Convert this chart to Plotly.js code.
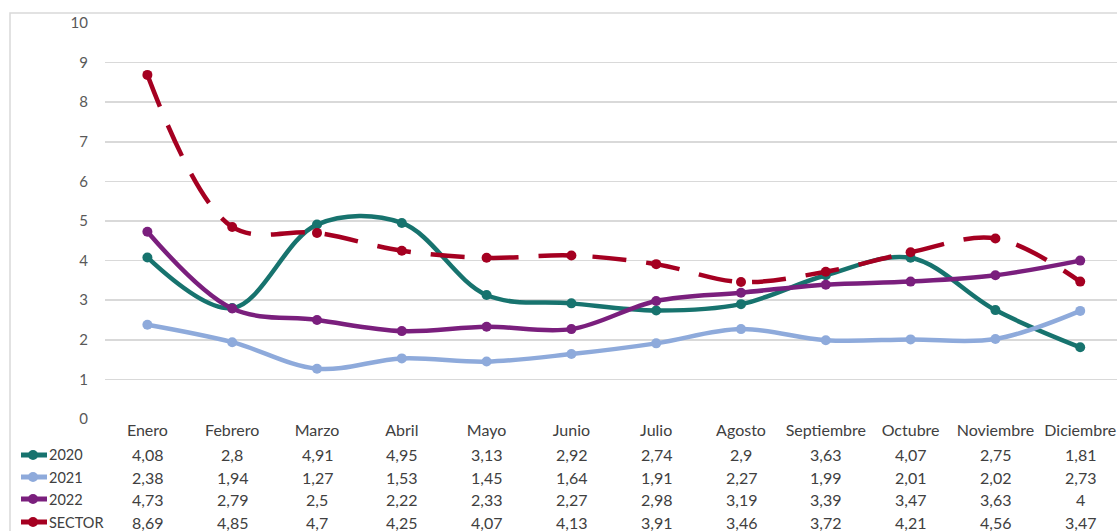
<!DOCTYPE html>
<html>
<head>
<meta charset="utf-8">
<script src="https://cdn.plot.ly/plotly-3.0.1.min.js"></script>
<style>html,body{margin:0;padding:0;background:#fff;overflow:hidden}</style>
</head>
<body>
<div id="chart" style="width:1117px;height:531px"></div>
<script>
const months = ["Enero","Febrero","Marzo","Abril","Mayo","Junio","Julio","Agosto","Septiembre","Octubre","Noviembre","Diciembre"];
const seriesNames = ["2020","2021","2022","SECTOR"];
const v2020 = [4.08,2.8,4.91,4.95,3.13,2.92,2.74,2.9,3.63,4.07,2.75,1.81];
const v2021 = [2.38,1.94,1.27,1.53,1.45,1.64,1.91,2.27,1.99,2.01,2.02,2.73];
const v2022 = [4.73,2.79,2.5,2.22,2.33,2.27,2.98,3.19,3.39,3.47,3.63,4];
const vSector = [8.69,4.85,4.7,4.25,4.07,4.13,3.91,3.46,3.72,4.21,4.56,3.47];
const yTicks = [0,1,2,3,4,5,6,7,8,9,10];

const allValues = [v2020, v2021, v2022, vSector];
const colors = ["#17736e", "#8eaadb", "#7a1f7d", "#a50021"];
const dashes = ["solid", "solid", "solid", "34px,20px"];

const fontFam = "Lato, 'Open Sans', sans-serif";
const textColor = "#404040";
const traces = allValues.map((vals, i) => ({
  type: "scatter",
  mode: "lines+markers",
  name: seriesNames[i],
  x: months,
  y: vals,
  line: {color: colors[i], width: 4.5, shape: "spline", smoothing: 1, dash: dashes[i]},
  marker: {color: colors[i], size: 10},
  showlegend: false,
  hoverinfo: "skip"
}));

// Plot area geometry in pixels (for paper conversions)
const L = 105, T = 23, PH = 396, PW = 1012;
const pyToPaper = py => (T + PH - py) / PH;
const pxToPaper = px => (px - L) / PW;
const rowY = [455, 477, 499, 522];

const annotations = [];
const shapes = [{
  type: "rect", xref: "paper", yref: "paper",
  x0: pxToPaper(10), x1: pxToPaper(1140),
  y0: pyToPaper(560), y1: pyToPaper(13),
  line: {color: "#d9d9d9", width: 1.5}, fillcolor: "rgba(0,0,0,0)", layer: "below"
}];

allValues.forEach((vals, r) => {
  vals.forEach((v, c) => {
    annotations.push({
      xref: "x", yref: "paper", x: months[c], y: pyToPaper(rowY[r]),
      text: String(v).replace(".", ","), showarrow: false,
      xanchor: "center", yanchor: "middle",
      font: {family: fontFam, size: 16, color: textColor}
    });
  });
  // legend key for the row
  const yk = pyToPaper(rowY[r]);
  shapes.push({
    type: "line", xref: "paper", yref: "paper",
    x0: pxToPaper(21), x1: pxToPaper(47), y0: yk, y1: yk,
    line: {color: colors[r], width: 5}
  });
  shapes.push({
    type: "circle", xref: "paper", yref: "paper",
    x0: pxToPaper(28), x1: pxToPaper(38),
    y0: yk - 5 / PH, y1: yk + 5 / PH,
    line: {color: colors[r], width: 0}, fillcolor: colors[r]
  });
  annotations.push({
    xref: "paper", yref: "paper", x: pxToPaper(47), y: yk,
    text: seriesNames[r], showarrow: false,
    xanchor: "left", yanchor: "middle",
    font: {family: fontFam, size: 14.5, color: textColor}
  });
});

const layout = {
  width: 1117, height: 531,
  margin: {l: L, r: 0, t: T, b: 531 - T - PH, pad: 0},
  paper_bgcolor: "#ffffff",
  plot_bgcolor: "#ffffff",
  showlegend: false,
  xaxis: {
    type: "category",
    range: [-0.5, -0.5 + PW / 84.8],
    showgrid: false, zeroline: false, showline: false,
    ticks: "",
    automargin: false,
    tickfont: {family: fontFam, size: 16, color: textColor},
    fixedrange: true
  },
  yaxis: {
    range: [0, 10],
    tickvals: yTicks,
    ticktext: yTicks.map(String),
    showgrid: true, gridcolor: "#d9d9d9", gridwidth: 1.5,
    zeroline: false, showline: false,
    ticks: "",
    automargin: false,
    ticklabelstandoff: 16,
    tickfont: {family: fontFam, size: 15, color: "#595959"},
    fixedrange: true
  },
  shapes: shapes,
  annotations: annotations,
  font: {family: fontFam}
};

Plotly.newPlot("chart", traces, layout, {displayModeBar: false, staticPlot: true});
</script>
</body>
</html>
